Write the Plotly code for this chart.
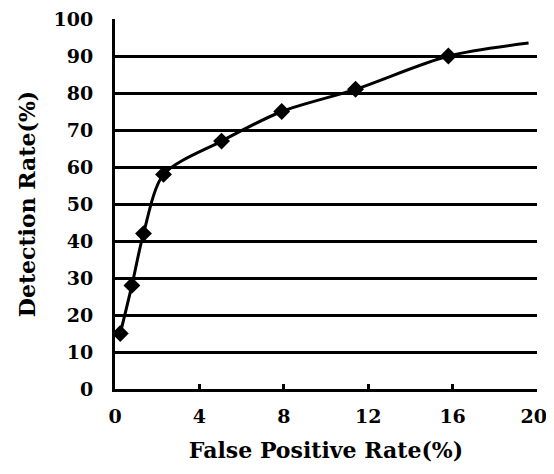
import plotly.graph_objects as go

# Data
fpr = [0.25, 0.8, 1.35, 2.3, 5.05, 7.9, 11.4, 15.8, 19.6]
detection = [15, 28, 42, 58, 67, 75, 81, 90, 93.5]
marker_pts = [True, True, True, True, True, True, True, True, False]

x_ticks = [0, 4, 8, 12, 16, 20]
x_tick_labels = ["0", "4", "8", "12", "16", "20"]
y_ticks = [0, 10, 20, 30, 40, 50, 60, 70, 80, 90, 100]
grid_vals = [10, 20, 30, 40, 50, 60, 70, 80, 90]

FONT = "DejaVu Serif"

fig = go.Figure()
fig.add_trace(go.Scatter(
    x=fpr, y=detection, mode="lines",
    line=dict(color="black", width=3, shape="spline", smoothing=0.8),
    showlegend=False, hoverinfo="skip",
))
fig.add_trace(go.Scatter(
    x=[x for x, m in zip(fpr, marker_pts) if m],
    y=[y for y, m in zip(detection, marker_pts) if m],
    mode="markers",
    marker=dict(symbol="diamond", size=13, color="black"),
    showlegend=False,
))
# invisible trace on the grid axis
fig.add_trace(go.Scatter(x=[0], y=[0], yaxis="y2", mode="markers",
                         marker=dict(opacity=0), showlegend=False, hoverinfo="skip"))

# last label pulled in slightly to stay inside the window, as in the reference
tick_text = x_tick_labels[:-1] + [x_tick_labels[-1] + "\u00a0"]

# page body has an 8px default margin, so the figure is sized to fit the window
fig.update_layout(
    width=546, height=466,
    margin=dict(l=107, r=17, t=11, b=85),
    paper_bgcolor="white", plot_bgcolor="white",
    font=dict(family=FONT, size=19, color="black", weight="bold"),
    xaxis=dict(
        range=[0, 20], tickvals=x_ticks, ticktext=tick_text,
        showgrid=False, zeroline=False, automargin=False,
        showline=True, linecolor="black", linewidth=3,
        ticks="inside", ticklen=5, tickwidth=3, tickcolor="black",
        ticklabelstandoff=8, ticklabeloverflow="allow",
        title=dict(text="False Positive Rate(%)", font=dict(family=FONT, size=22, weight="bold"), standoff=17),
    ),
    yaxis=dict(
        range=[0, 100], tickvals=y_ticks, ticktext=[str(v) for v in y_ticks],
        showgrid=False, zeroline=False, automargin=False,
        showline=True, linecolor="black", linewidth=3,
        ticks="", ticklabelstandoff=15, ticklabeloverflow="allow",
        title=dict(text="Detection Rate(%)", font=dict(family=FONT, size=22, weight="bold"), standoff=12),
    ),
    yaxis2=dict(
        range=[0, 100], overlaying="y", tickvals=grid_vals, showticklabels=False,
        showgrid=True, gridcolor="black", gridwidth=3, zeroline=False, showline=False,
        automargin=False,
    ),
)

fig.write_html("out.html")
